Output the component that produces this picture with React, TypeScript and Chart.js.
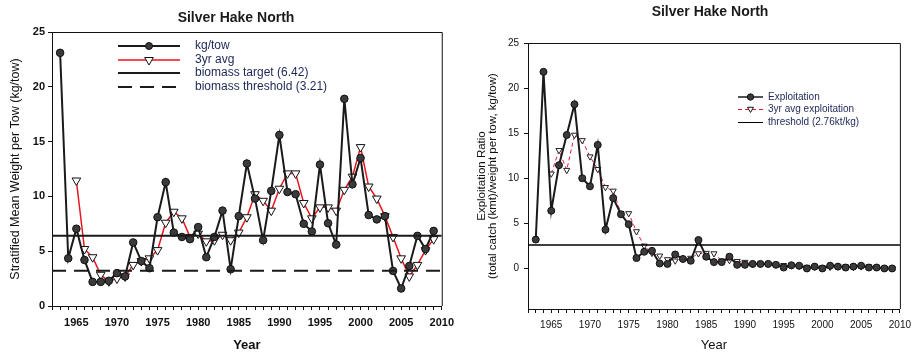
import React, { useEffect, useRef } from 'react';
import { Chart, registerables } from 'chart.js';

Chart.register(...registerables);

// ---------------- data ----------------
const YEARS = [
  1963, 1964, 1965, 1966, 1967, 1968, 1969, 1970, 1971, 1972,
  1973, 1974, 1975, 1976, 1977, 1978, 1979, 1980, 1981, 1982,
  1983, 1984, 1985, 1986, 1987, 1988, 1989, 1990, 1991, 1992,
  1993, 1994, 1995, 1996, 1997, 1998, 1999, 2000, 2001, 2002,
  2003, 2004, 2005, 2006, 2007, 2008, 2009,
];

const KG_TOW = [
  23.1, 4.35, 7.05, 4.2, 2.2, 2.2, 2.3, 3.0, 2.7, 5.8,
  4.1, 3.45, 8.1, 11.3, 6.7, 6.3, 6.1, 7.2, 4.45, 6.3,
  8.7, 3.35, 8.2, 13.0, 9.8, 6.0, 10.5, 15.6, 10.4, 10.2,
  7.5, 6.8, 12.9, 7.55, 5.6, 18.9, 11.1, 13.5, 8.3, 7.9,
  8.2, 3.2, 1.6, 3.65, 6.4, 5.2, 6.85,
];

const KG_TOW_3YR: (number | null)[] = [
  null, null, 11.45, 5.2, 4.45, 2.85, 2.25, 2.5, 2.7, 3.75,
  4.1, 4.35, 5.1, 7.6, 8.6, 8.0, 6.3, 6.6, 5.9, 6.0,
  6.5, 6.0, 6.7, 8.1, 10.2, 9.6, 8.7, 10.7, 12.1, 12.1,
  9.4, 8.0, 9.0, 9.0, 8.7, 10.6, 11.8, 14.5, 10.9, 9.8,
  8.2, 6.3, 4.35, 2.7, 3.75, 5.1, 6.1,
];

const BIOMASS_TARGET = 6.42;
const BIOMASS_THRESHOLD = 3.21;

const EXPLOITATION = [
  3.2, 21.8, 6.4, 11.45, 14.8, 18.2, 10.0, 9.1, 13.7, 4.3,
  7.8, 6.0, 4.9, 1.15, 1.85, 1.95, 0.55, 0.5, 1.55, 1.05,
  0.85, 3.15, 1.3, 0.7, 0.7, 1.3, 0.4, 0.4, 0.5, 0.5,
  0.5, 0.4, 0.1, 0.35, 0.3, 0.0, 0.2, 0.0, 0.3, 0.2,
  0.1, 0.2, 0.3, 0.1, 0.1, 0.0, 0.0,
];

const EXPLOITATION_3YR: (number | null)[] = [
  null, null, 10.5, 13.1, 10.9, 14.8, 14.2, 12.4, 11.0, 9.0,
  8.6, 6.1, 6.1, 4.1, 2.5, 1.7, 1.4, 1.0, 0.85, 1.05,
  1.15, 1.65, 1.7, 1.65, 0.85, 0.9, 0.8, 0.7, 0.45, 0.5,
  0.5, 0.45, 0.35, 0.3, 0.25, 0.15, 0.15, 0.1, 0.15, 0.2,
  0.2, 0.15, 0.2, 0.2, 0.15, 0.05, 0.0,
];

const EXPLOITATION_THRESHOLD = 2.6;

const X_MIN = 1962;
const X_MAX = 2010;
const X_TICK_LABELS = [1965, 1970, 1975, 1980, 1985, 1990, 1995, 2000, 2005, 2010];
const Y_TICK_VALUES = [0, 5, 10, 15, 20, 25];

const TITLE = 'Silver Hake North';
const LEFT_LEGEND = ['kg/tow', '3yr avg', 'biomass target (6.42)', 'biomass threshold (3.21)'];
const RIGHT_LEGEND = ['Exploitation', '3yr avg exploitation', 'threshold (2.76kt/kg)'];

// ---------------- helpers ----------------
const FONT = '"Liberation Sans", Arial, Helvetica, sans-serif';
Chart.defaults.font.family = FONT;
Chart.defaults.color = '#111';

const pts = (vals: (number | null)[]) => YEARS.map((x, i) => ({ x, y: vals[i] }));
const hline = (v: number) => [{ x: X_MIN, y: v }, { x: X_MAX, y: v }];

type LegendItem = {
  label: string;
  color: string;
  width: number;
  dash?: number[];
  marker?: 'circle' | 'tri';
  mr?: number;
  mFill?: string;
};

function drawMarker(ctx: CanvasRenderingContext2D, kind: string, x: number, y: number, r: number, fill: string) {
  ctx.save();
  ctx.setLineDash([]);
  ctx.beginPath();
  if (kind === 'circle') {
    ctx.arc(x, y, r, 0, Math.PI * 2);
  } else {
    let a = Math.PI;
    ctx.moveTo(x + Math.sin(a) * r, y - Math.cos(a) * r);
    a += (2 * Math.PI) / 3;
    ctx.lineTo(x + Math.sin(a) * r, y - Math.cos(a) * r);
    a += (2 * Math.PI) / 3;
    ctx.lineTo(x + Math.sin(a) * r, y - Math.cos(a) * r);
    ctx.closePath();
  }
  ctx.fillStyle = fill;
  ctx.fill();
  ctx.lineWidth = 1;
  ctx.strokeStyle = '#111';
  ctx.stroke();
  ctx.restore();
}

function makeDecorPlugin(cfg: {
  titleX: number;
  titleY: number;
  legend: LegendItem[];
  lx0: number;
  lx1: number;
  tx: number;
  ly: number[];
  lfont: string;
}) {
  return {
    id: 'decor',
    afterDraw(chart: any) {
      const { ctx, chartArea } = chart;
      ctx.save();
      ctx.strokeStyle = '#111';
      ctx.lineWidth = 1;
      ctx.beginPath();
      ctx.moveTo(chartArea.left, chartArea.top + 0.5);
      ctx.lineTo(chartArea.right + 0.5, chartArea.top + 0.5);
      ctx.lineTo(chartArea.right + 0.5, chartArea.bottom);
      ctx.stroke();
      ctx.fillStyle = '#1a1a1a';
      ctx.font = `bold 14px ${FONT}`;
      ctx.textAlign = 'center';
      ctx.textBaseline = 'middle';
      ctx.fillText(TITLE, cfg.titleX, cfg.titleY);
      cfg.legend.forEach((it, i) => {
        const y = cfg.ly[i];
        const ly = it.width % 2 === 1 ? y + 0.5 : y;
        ctx.save();
        ctx.strokeStyle = it.color;
        ctx.lineWidth = it.width;
        ctx.setLineDash(it.dash || []);
        ctx.beginPath();
        ctx.moveTo(cfg.lx0, ly);
        ctx.lineTo(cfg.lx1, ly);
        ctx.stroke();
        ctx.restore();
        if (it.marker) drawMarker(ctx, it.marker, (cfg.lx0 + cfg.lx1) / 2, y, it.mr || 3.5, it.mFill || '#fff');
        ctx.fillStyle = '#1c2657';
        ctx.font = cfg.lfont;
        ctx.textAlign = 'left';
        ctx.textBaseline = 'middle';
        ctx.fillText(it.label, cfg.tx, y);
      });
      ctx.restore();
    },
  };
}

function xScale(tickFont: any, labelPad: number, height: number, titleFont: any) {
  return {
    type: 'linear',
    min: X_MIN,
    max: X_MAX,
    ticks: {
      stepSize: 1,
      maxTicksLimit: 200,
      autoSkip: false,
      maxRotation: 0,
      minRotation: 0,
      padding: labelPad,
      font: tickFont,
      color: '#111',
      callback: (v: number) => (X_TICK_LABELS.includes(v) ? String(v) : ''),
    },
    grid: { display: true, drawOnChartArea: false, drawTicks: true, tickLength: 4, color: '#111' },
    border: { display: true, color: '#111', width: 1 },
    title: { display: true, text: 'Year', font: titleFont, color: '#111', padding: { top: 0, bottom: 1 } },
    afterFit: (s: any) => {
      s.height = height;
    },
  };
}

function LeftChart() {
  const ref = useRef<HTMLCanvasElement | null>(null);
  useEffect(() => {
    if (!ref.current) return;
    const legend: LegendItem[] = [
      { label: LEFT_LEGEND[0], color: '#1a1a1a', width: 2, marker: 'circle', mr: 3.5, mFill: '#3a3a3a' },
      { label: LEFT_LEGEND[1], color: '#e8141e', width: 1.5, marker: 'tri', mr: 5, mFill: '#fff' },
      { label: LEFT_LEGEND[2], color: '#1a1a1a', width: 2 },
      { label: LEFT_LEGEND[3], color: '#1a1a1a', width: 2, dash: [14, 8] },
    ];
    const chart = new Chart(ref.current, {
      type: 'line',
      data: {
        datasets: [
          {
            label: LEFT_LEGEND[2],
            data: hline(BIOMASS_TARGET),
            borderColor: '#1a1a1a',
            borderWidth: 2,
            pointRadius: 0,
          },
          {
            label: LEFT_LEGEND[3],
            data: hline(BIOMASS_THRESHOLD),
            borderColor: '#1a1a1a',
            borderWidth: 2,
            borderDash: [14, 8],
            pointRadius: 0,
          },
          {
            label: LEFT_LEGEND[0],
            data: pts(KG_TOW),
            borderColor: '#1a1a1a',
            borderWidth: 2,
            pointRadius: 3.8,
            pointBackgroundColor: '#3a3a3a',
            pointBorderColor: '#111',
            pointBorderWidth: 1,
          },
          {
            label: LEFT_LEGEND[1],
            data: pts(KG_TOW_3YR),
            borderColor: '#e8141e',
            borderWidth: 1.5,
            pointStyle: 'triangle',
            rotation: 180,
            pointRadius: 5,
            pointBackgroundColor: '#fff',
            pointBorderColor: '#111',
            pointBorderWidth: 1,
          },
        ],
      } as any,
      options: {
        animation: false,
        responsive: false,
        layout: { padding: { top: 32, right: 12, left: 0, bottom: 0 } },
        plugins: { legend: { display: false }, tooltip: { enabled: false }, title: { display: false } },
        elements: { line: { tension: 0 } },
        scales: {
          x: xScale({ size: 11, weight: 'bold' }, 6, 48, { size: 13, weight: 'bold' }),
          y: {
            type: 'linear',
            min: 0,
            max: 25,
            ticks: { stepSize: 5, padding: 3, font: { size: 11, weight: 'bold' }, color: '#111' },
            afterBuildTicks: (s: any) => {
              s.ticks = Y_TICK_VALUES.map((v) => ({ value: v }));
            },
            grid: { display: true, drawOnChartArea: false, drawTicks: true, tickLength: 4, color: '#111' },
            border: { display: true, color: '#111', width: 1 },
            title: {
              display: true,
              text: 'Stratified Mean Weight per Tow (kg/tow)',
              font: { size: 12.5 },
              color: '#111',
              padding: { top: 8, bottom: 0 },
            },
            afterFit: (s: any) => {
              s.width = 52;
            },
          },
        },
      } as any,
      plugins: [
        makeDecorPlugin({
          titleX: 236,
          titleY: 18,
          legend,
          lx0: 118,
          lx1: 180,
          tx: 195,
          ly: [46, 60, 73, 87],
          lfont: `12px ${FONT}`,
        }),
      ],
    });
    return () => chart.destroy();
  }, []);
  return <canvas ref={ref} width={460} height={354} style={{ position: 'absolute', left: 0, top: 0 }} />;
}

function RightChart() {
  const ref = useRef<HTMLCanvasElement | null>(null);
  useEffect(() => {
    if (!ref.current) return;
    const legend: LegendItem[] = [
      { label: RIGHT_LEGEND[0], color: '#1a1a1a', width: 1.5, marker: 'circle', mr: 3.2, mFill: '#3a3a3a' },
      { label: RIGHT_LEGEND[1], color: '#e8143c', width: 1, dash: [4, 3], marker: 'tri', mr: 3.5, mFill: '#fff' },
      { label: RIGHT_LEGEND[2], color: '#000', width: 1 },
    ];
    const chart = new Chart(ref.current, {
      type: 'line',
      data: {
        datasets: [
          {
            label: RIGHT_LEGEND[2],
            data: hline(EXPLOITATION_THRESHOLD),
            borderColor: '#000',
            borderWidth: 1.3,
            pointRadius: 0,
          },
          {
            label: RIGHT_LEGEND[0],
            data: pts(EXPLOITATION),
            borderColor: '#1a1a1a',
            borderWidth: 2,
            pointRadius: 3.5,
            pointBackgroundColor: '#3a3a3a',
            pointBorderColor: '#111',
            pointBorderWidth: 1,
          },
          {
            label: RIGHT_LEGEND[1],
            data: pts(EXPLOITATION_3YR),
            borderColor: '#e8143c',
            borderWidth: 1,
            borderDash: [4, 3],
            pointStyle: 'triangle',
            rotation: 180,
            pointRadius: 3.5,
            pointBackgroundColor: '#fff',
            pointBorderColor: '#222',
            pointBorderWidth: 1,
          },
        ],
      } as any,
      options: {
        animation: false,
        responsive: false,
        layout: { padding: { top: 43, right: 14, left: 0, bottom: 0 } },
        plugins: { legend: { display: false }, tooltip: { enabled: false }, title: { display: false } },
        elements: { line: { tension: 0 } },
        scales: {
          x: xScale({ size: 10 }, 6, 45, { size: 13 }),
          y: {
            type: 'linear',
            min: -4.5,
            max: 25,
            ticks: { stepSize: 5, padding: 5, font: { size: 10 }, color: '#111' },
            afterBuildTicks: (s: any) => {
              s.ticks = Y_TICK_VALUES.map((v) => ({ value: v }));
            },
            grid: { display: true, drawOnChartArea: false, drawTicks: true, tickLength: 4, color: '#111' },
            border: { display: true, color: '#111', width: 1 },
            title: {
              display: true,
              text: ['Exploitation Ratio', '(total catch (kmt)/weight per tow, kg/tow)'],
              font: { size: 11.5, lineHeight: 1.0 },
              color: '#111',
              padding: { top: 16, bottom: 0 },
            },
            afterFit: (s: any) => {
              s.width = 68;
            },
          },
        },
      } as any,
      plugins: [
        makeDecorPlugin({
          titleX: 250,
          titleY: 12,
          legend,
          lx0: 278,
          lx1: 303,
          tx: 308,
          ly: [97, 109, 122],
          lfont: `10px ${FONT}`,
        }),
      ],
    });
    return () => chart.destroy();
  }, []);
  return <canvas ref={ref} width={457} height={354} style={{ position: 'absolute', left: 460, top: 0 }} />;
}

export default function App() {
  return (
    <div style={{ position: 'absolute', left: 0, top: 0, width: 917, height: 354, background: '#fff', overflow: 'hidden' }}>
      <LeftChart />
      <RightChart />
    </div>
  );
}
